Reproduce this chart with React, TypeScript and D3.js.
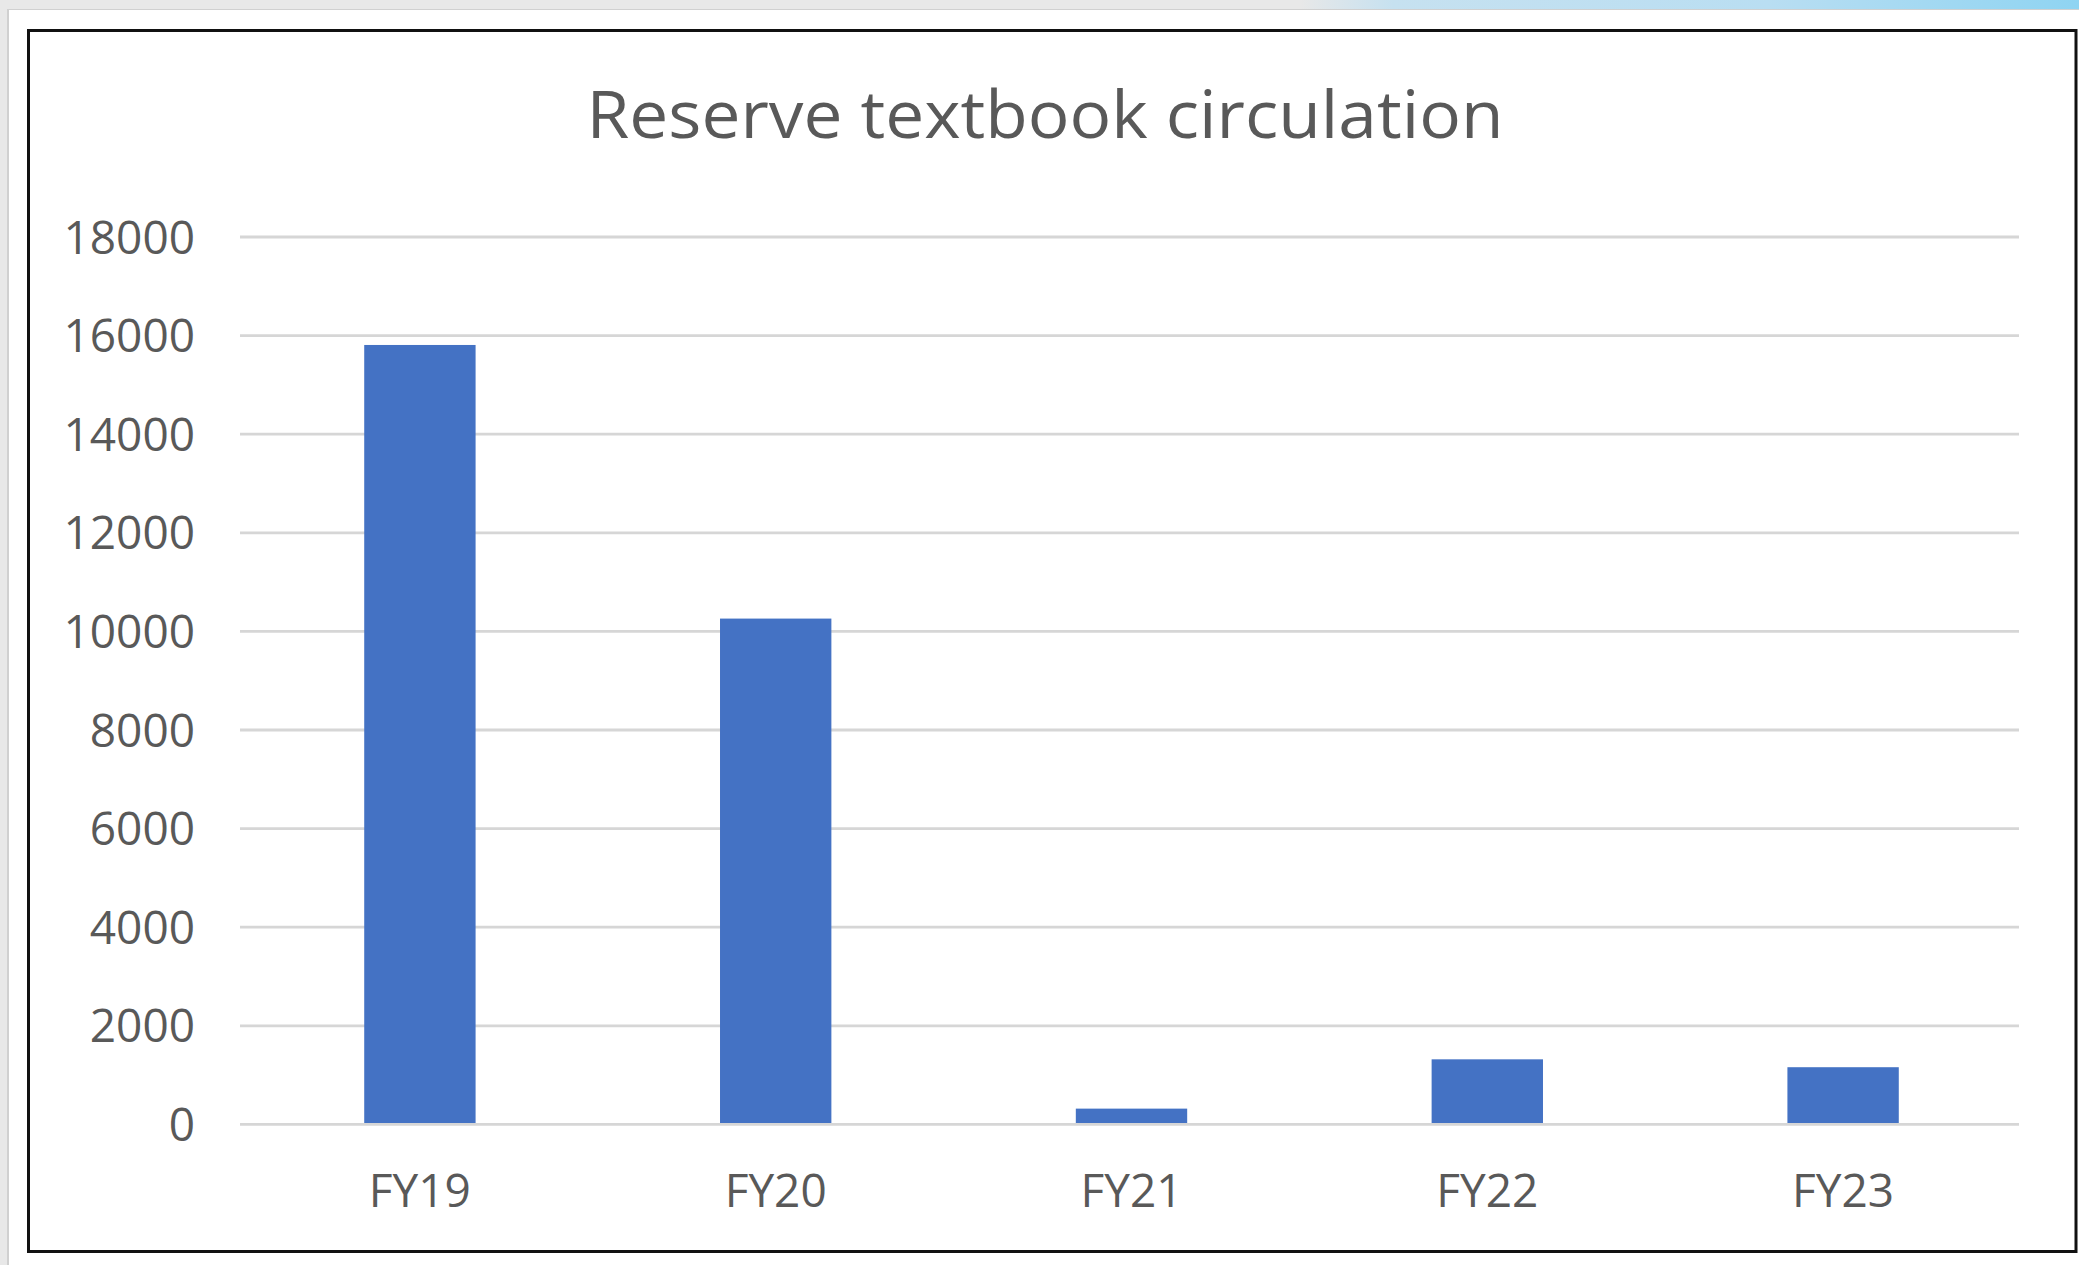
import React from "react";
import * as d3 from "d3";

const categories = ["FY19", "FY20", "FY21", "FY22", "FY23"];
const values = [15810, 10260, 320, 1320, 1160];
const yTicks = [0, 2000, 4000, 6000, 8000, 10000, 12000, 14000, 16000, 18000];
const title = "Reserve textbook circulation";

const W = 2079;
const H = 1265;

export default function App() {
  const x = d3
    .scaleBand<string>()
    .domain(categories)
    .range([242, 2021])
    .paddingInner(0.687)
    .paddingOuter(0.3435);
  const y = d3.scaleLinear().domain([0, 18000]).range([1124.4, 237]);
  const font = "'Open Sans', 'Noto Sans', sans-serif";
  const textColor = "#595959";

  return (
    <>
      <style>{`body{margin:0;}`}</style>
      <svg width={W} height={H} style={{ display: "block" }}>
        <defs>
          <linearGradient id="topblue" x1="0" x2="1" y1="0" y2="0">
            <stop offset="0" stopColor="#e8e8e8" />
            <stop offset="0.12" stopColor="#c6e1f0" />
            <stop offset="0.6" stopColor="#b9def2" />
            <stop offset="1" stopColor="#8fd4f2" />
          </linearGradient>
        </defs>
        <rect x={0} y={0} width={W} height={H} fill="#e8e8e8" />
        <rect x={1300} y={0} width={W - 1300} height={10} fill="url(#topblue)" />
        <rect x={7} y={9} width={W - 7} height={H - 9} fill="#d0d0d0" />
        <rect x={9} y={10} width={W - 9} height={H - 10} fill="#ffffff" />
        <rect
          x={28.5}
          y={30.5}
          width={2047.5}
          height={1221}
          fill="#ffffff"
          stroke="#111111"
          strokeWidth={3}
        />
        <text
          x={1045}
          y={138}
          textAnchor="middle"
          fontFamily={font}
          fontSize={66}
          fill={textColor}
          textLength={917}
          lengthAdjust="spacingAndGlyphs"
        >
          {title}
        </text>
        {yTicks.map((t) => (
          <g key={t}>
            <line
              x1={240}
              x2={2019}
              y1={y(t)}
              y2={y(t)}
              stroke="#d6d6d6"
              strokeWidth={2.8}
            />
            <text
              x={195}
              y={y(t) + 16.5}
              textAnchor="end"
              fontFamily={font}
              fontSize={46}
              fill={textColor}
            >
              {t}
            </text>
          </g>
        ))}
        {categories.map((c, i) => (
          <g key={c}>
            <rect
              x={x(c)!}
              y={y(values[i])}
              width={x.bandwidth()}
              height={y(0) - y(values[i]) - 1.4}
              fill="#4472c4"
            />
            <text
              x={x(c)! + x.bandwidth() / 2}
              y={1207}
              textAnchor="middle"
              fontFamily={font}
              fontSize={46}
              fill={textColor}
            >
              {c}
            </text>
          </g>
        ))}
      </svg>
    </>
  );
}
